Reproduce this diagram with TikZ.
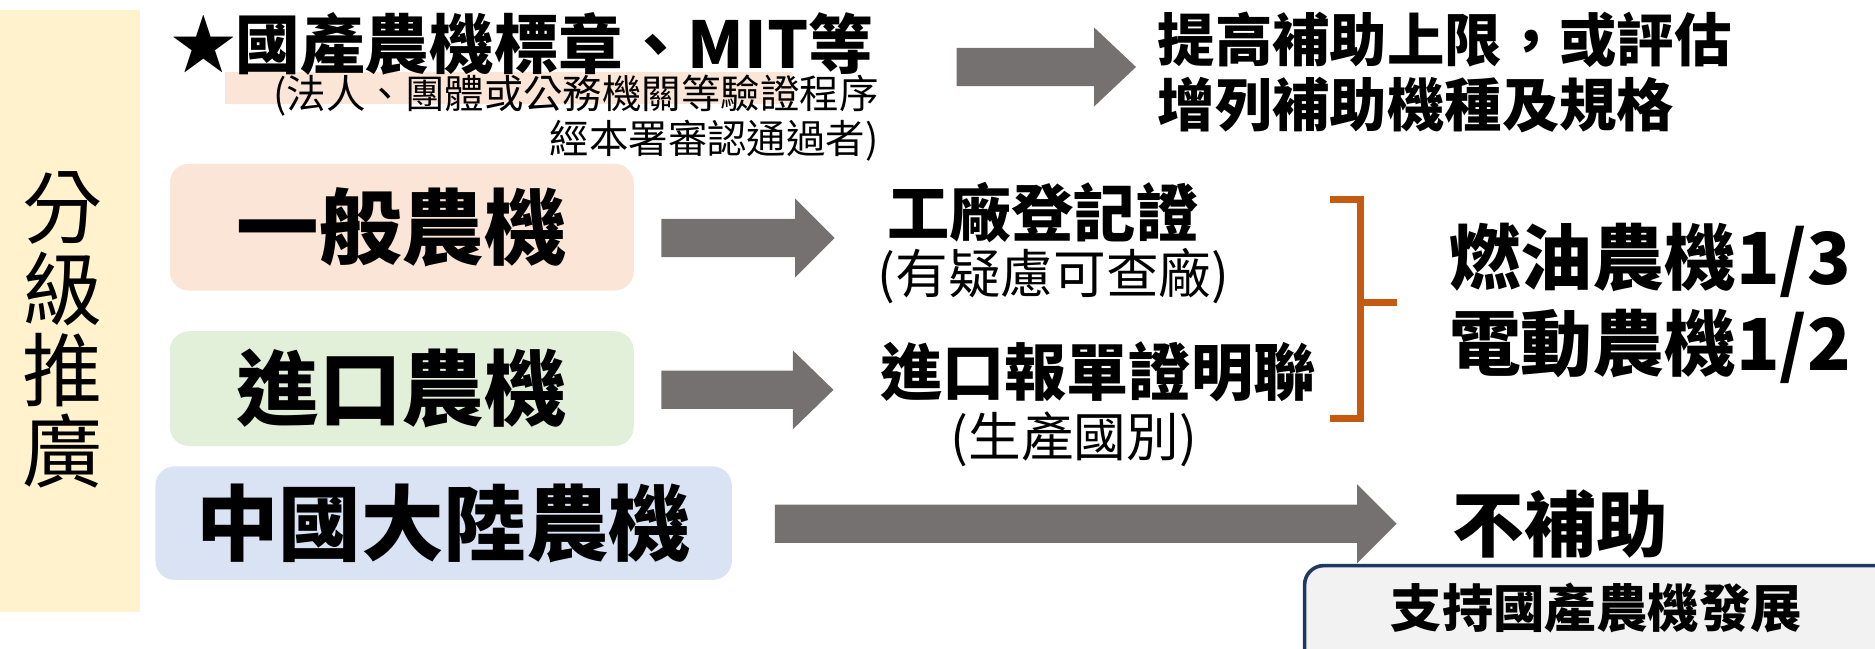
\documentclass[tikz,border=0pt]{standalone}
\usepackage{fontspec}
\setmainfont{Noto Sans CJK TC}
\usetikzlibrary{calc}
\definecolor{bandyellow}{HTML}{FFF2CC}
\definecolor{peach}{HTML}{FBE5D6}
\definecolor{softgreen}{HTML}{E2F0D9}
\definecolor{softblue}{HTML}{DAE3F3}
\definecolor{arrowgray}{HTML}{767171}
\definecolor{brorange}{HTML}{C55A11}
\definecolor{navy}{HTML}{1F3864}
\definecolor{lightgray}{HTML}{F2F2F2}
\newcommand{\fsz}[1]{\fontsize{#1}{#1}\selectfont}
% block arrow: from node/coord #1 to node/coord #2 (horizontal), head length #3
\newcommand{\blockarrow}[3]{%
  \fill[arrowgray] let \p1=(#1), \p2=(#2) in
    (\x1,\y1-16) -- (\x2-#3,\y1-16) -- (\x2-#3,\y1-33) -- (\x2,\y1)
    -- (\x2-#3,\y1+33) -- (\x2-#3,\y1+16) -- (\x1,\y1+16) -- cycle;}
\tikzset{
  catbox/.style={rounded corners=16pt, inner sep=0pt, font=\fsz{69}\bfseries},
  bold/.style={inner sep=0pt, font=\fsz{#1}\bfseries},
  bold/.default=50,
  plain/.style={inner sep=0pt, font=\fsz{#1}},
  plain/.default=40,
}
\begin{document}
\begin{tikzpicture}[x=1pt,y=-1pt]
\useasboundingbox (0,0) rectangle (1568,542);
% left band
\fill[bandyellow] (0,8) rectangle (117,512);
\node[plain=67, align=center, font=\fsz{67}] (band) at (52,276) {分\\[1pt]級\\[1pt]推\\[1pt]廣};
% top row
\fill[peach] (188,60) rectangle (662,87);
\node[bold=54, anchor=west] (title) at (143,37) {★國產農機標章、MIT等};
\node[plain=33, anchor=east] (sub1) at (735,80) {(法人、團體或公務機關等驗證程序};
\node[plain=33, anchor=east] (sub2) at (735,118) {經本署審認通過者)};
\node[bold=48, anchor=west] (up1) at (968,33) {提高補助上限，或評估};
\node[bold=48, anchor=west] (up2) at (968,88) {增列補助機種及規格};
\coordinate (a1s) at (800,56);
\coordinate (a1e) at (950,56);
\blockarrow{a1s}{a1e}{35}
% category boxes
\node[catbox, fill=peach, minimum width=388pt, minimum height=106pt] (gen) at (336,190) {一般農機};
\node[catbox, fill=softgreen, minimum width=388pt, minimum height=96pt] (imp) at (336,325) {進口農機};
\node[catbox, fill=softblue, minimum width=482pt, minimum height=95pt] (cn) at (371,437.5) {中國大陸農機};
% requirement texts
\node[bold=52] (fac) at (872,178) {工廠登記證};
\node[plain=44] (facs) at (881,231) {(有疑慮可查廠)};
\node[bold=52] (dec) at (918,311) {進口報單證明聯};
\node[plain=44] (decs) at (898,367) {(生產國別)};
\coordinate (a2s) at (553,199);
\coordinate (a2e) at (698,199);
\blockarrow{a2s}{a2e}{33}
\coordinate (a3s) at (553,326);
\coordinate (a3e) at (697,326);
\blockarrow{a3s}{a3e}{34}
\coordinate (a4s) at (648,438);
\coordinate (a4e) at (1168,438);
\blockarrow{a4s}{a4e}{33}
% bracket
\coordinate (bt) at (1112,167);
\coordinate (bb) at (1112,350);
\coordinate (bm) at (1168,253);
\draw[brorange, line width=6pt] (bt) -- (1138,167) -- (1138,350) -- (bb);
\draw[brorange, line width=6pt] (1138,253) -- (bm);
\node[bold=60] (fuel) at (1380,218) {燃油農機1/3};
\node[bold=60] (elec) at (1380,290) {電動農機1/2};
\node[bold=60] (none) at (1305,438) {不補助};
% bottom box
\draw[navy, line width=3pt, fill=lightgray, rounded corners=16pt] (1091,473) rectangle (1585,560);
\node[bold=43] (supp) at (1335,508) {支持國產農機發展};
\end{tikzpicture}
\end{document}
